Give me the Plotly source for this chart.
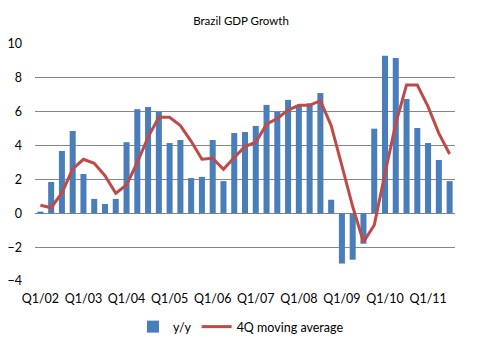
import plotly.graph_objects as go

quarters = [f"Q{q}/{y:02d}" for y in range(2, 12) for q in range(1, 5)][:39]
yy = [0.1, 1.85, 3.68, 4.86, 2.32, 0.85, 0.55, 0.85, 4.2, 6.15, 6.28, 6.0,
      4.15, 4.33, 2.08, 2.15, 4.33, 1.9, 4.74, 4.8, 5.16, 6.4, 6.0, 6.7,
      6.34, 6.5, 7.1, 0.8, -2.97, -2.74, -1.8, 5.0, 9.3, 9.18, 6.75, 5.04,
      4.15, 3.15, 1.9]
ma4 = [0.47, 0.33, 1.2, 2.62, 3.19, 2.95, 2.22, 1.18, 1.67, 3.0, 4.5, 5.67,
       5.67, 5.18, 4.25, 3.19, 3.25, 2.6, 3.3, 3.94, 4.2, 5.26, 5.6, 6.1,
       6.38, 6.38, 6.65, 5.18, 2.8, 0.4, -1.7, -0.7, 2.35, 5.3, 7.58, 7.58,
       6.3, 4.72, 3.5]
tick_labels = [q for q in quarters if q.startswith("Q1/")]

font = "Lato, 'Open Sans', sans-serif"
fig = go.Figure()
fig.add_trace(go.Bar(x=quarters, y=yy, name="y/y", marker_color="#4A7EBB",
                     marker_line_width=0))
fig.add_trace(go.Scatter(x=quarters, y=ma4, name="4Q moving average", mode="lines",
                         line=dict(color="#BE4B48", width=3)))
fig.update_layout(
    width=482, height=348,
    margin=dict(l=35, r=27, t=44, b=67, autoexpand=False),
    paper_bgcolor="white", plot_bgcolor="white",
    font=dict(family=font, size=12.5, color="#000000"),
    title=dict(text="Brazil GDP Growth", x=0.5, xanchor="center", y=0.94,
               yanchor="middle", font=dict(size=11.5)),
    bargap=0.44,
    showlegend=True,
    legend=dict(orientation="h", x=0.5, xanchor="center", xref="container",
                y=1 - 327 / 348, yanchor="middle", yref="container",
                font=dict(size=12.5), itemwidth=30, tracegroupgap=0),
)
fig.update_xaxes(tickmode="array", tickvals=tick_labels, ticktext=tick_labels,
                 showgrid=False, showline=False, ticks="", tickfont=dict(size=12.5),
                 tickangle=0, automargin=False, ticklabelstandoff=8)
fig.update_yaxes(range=[-4, 10], dtick=2, showgrid=True, gridcolor="#868686",
                 gridwidth=1, zeroline=True, zerolinecolor="#868686", zerolinewidth=1,
                 showline=False, ticks="", ticklabelstandoff=12, tickfont=dict(size=12.5),
                 automargin=False)
fig.write_html("out.html")
